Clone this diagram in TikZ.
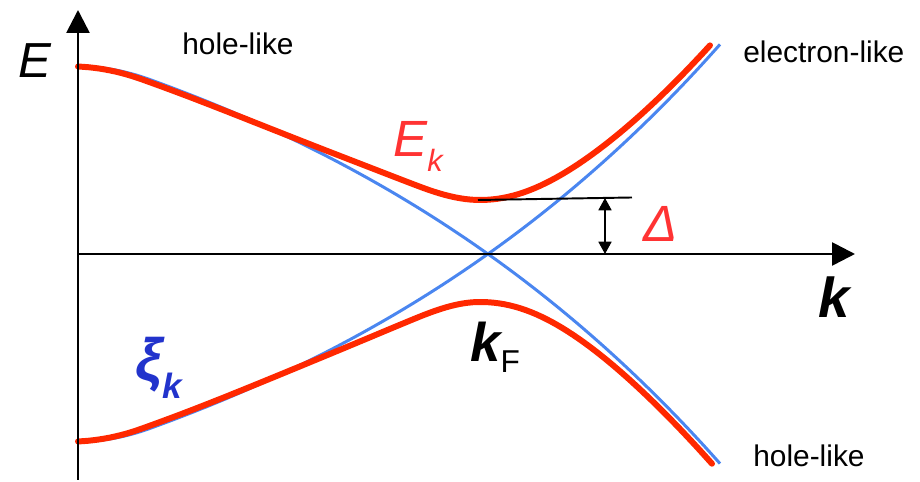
\documentclass[tikz,border=0pt]{standalone}
\usepackage{fontspec}
\setmainfont{Liberation Sans}
\usetikzlibrary{arrows.meta}
\definecolor{bandred}{RGB}{255,40,0}
\definecolor{bandblue}{RGB}{74,134,240}
\definecolor{labelred}{RGB}{255,51,51}
\definecolor{labelblue}{RGB}{34,51,204}

\begin{document}
\begin{tikzpicture}[x=0.02cm, y=0.02cm,
  declare function={
    bump(\u)=11*max(0,1-(\u+410)/71)*max(0,1-(\u+410)/71);
    xi(\u)=355*(exp(\u/500)-1)+bump(\u);
    fadeR(\u,\w)=max(0,\u)/\w;
    fadeL(\u)=max(0,-\u-60)/200;
    fade(\u,\w)=exp(-fadeR(\u,\w)*fadeR(\u,\w)-fadeL(\u)*fadeL(\u));
    en(\u,\d,\w)=10*veclen(xi(\u)/10,\d*fade(\u,\w)/10);
  },
  axis/.style={line width=1.5pt, -{Triangle[width=13pt,length=13pt]}},
  normal/.style={bandblue, line width=1.7pt},
  super/.style={bandred, line width=3.4pt, line cap=round},
  lbl/.style={inner sep=0pt, anchor=base west}]
  \useasboundingbox (-488,-228) rectangle (432,254);

  \coordinate (O) at (-410,0);
  \coordinate (Etop) at (-410,244);
  \coordinate (Ebot) at (-410,-226);
  \coordinate (kend) at (367,0);

  % normal-state bands xi_k and -xi_k
  \draw[normal] plot[domain=-410:232, samples=100] (\x,{-xi(\x)});
  \draw[normal] plot[domain=-410:232, samples=100] (\x,{xi(\x)});

  % quasiparticle bands +-E_k
  \draw[super] plot[domain=-410:222, samples=120] (\x,{en(\x+8,54,250)});
  \draw[super] plot[domain=-410:224, samples=120] (\x,{-en(\x+8,48,170)});

  \draw[axis] (Ebot) -- (Etop);
  \draw[axis] (O) -- (kend);

  % gap marker
  \coordinate (gapL) at (-10,54);
  \coordinate (gapR) at (144,56.5);
  \coordinate (gapTop) at (117,56);
  \coordinate (gapBot) at (117,0);
  \draw[line width=1.1pt] (gapL) -- (gapR);
  \draw[line width=0.6pt, {Triangle[width=7.5pt,length=7pt]}-{Triangle[width=7.5pt,length=7pt]}] (gapBot) -- (gapTop);

  \node[lbl] (Elab) at (-470,176) {\fontsize{28}{28}\selectfont\itshape E};
  \node[lbl] (holeTop) at (-306,199) {\fontsize{17}{17}\selectfont hole-like};
  \node[lbl] (electron) at (255,191) {\fontsize{17}{17}\selectfont electron-like};
  \node[lbl] (holeBot) at (265,-213) {\fontsize{17}{17}\selectfont hole-like};
  \node[lbl, labelred] (Ek) at (-95,97) {\fontsize{29}{29}\selectfont\itshape E\raisebox{-8.5pt}{\fontsize{17.5}{17.5}\selectfont k}};
  \node[lbl, labelred] (gapLab) at (155,12) {\fontsize{29}{29}\selectfont\itshape Δ};
  \node[lbl] (kLab) at (330,-64) {\fontsize{32}{32}\selectfont\bfseries\itshape k};
  \node[lbl] (kF) at (-18,-108) {\fontsize{31}{31}\selectfont\bfseries\itshape k\raisebox{-6pt}{\fontsize{18}{18}\selectfont\mdseries\upshape F}};
  \node[lbl, labelblue] (xiLab) at (-353,-127) {\fontsize{34}{34}\selectfont\bfseries\itshape ξ\raisebox{-9.7pt}{\fontsize{20}{20}\selectfont k}};
\end{tikzpicture}
\end{document}
